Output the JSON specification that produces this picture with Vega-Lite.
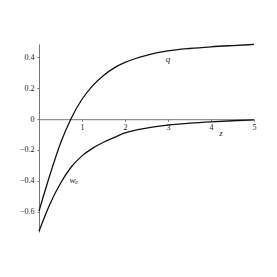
{
  "$schema": "https://vega.github.io/schema/vega-lite/v6.json",
  "width": 215,
  "height": 188,
  "autosize": {"type": "none"},
  "padding": {"left": 39, "top": 44, "right": 23, "bottom": 45},
  "background": "white",
  "config": {
    "view": {"stroke": null},
    "font": "Liberation Serif",
    "axis": {"grid": false, "title": null, "domainColor": "#777777", "tickColor": "#777777", "labelColor": "#222222", "labelFont": "Liberation Serif", "labelFontSize": 8, "labelOverlap": false}
  },
  "datasets": {
    "curves": [
      {"x": 0, "y": -0.595, "s": "q"},
      {"x": 0.25, "y": -0.365, "s": "q"},
      {"x": 0.5, "y": -0.157, "s": "q"},
      {"x": 0.75, "y": 0.005, "s": "q"},
      {"x": 1.0, "y": 0.128, "s": "q"},
      {"x": 1.25, "y": 0.216, "s": "q"},
      {"x": 1.5, "y": 0.282, "s": "q"},
      {"x": 1.75, "y": 0.331, "s": "q"},
      {"x": 2.0, "y": 0.366, "s": "q"},
      {"x": 2.5, "y": 0.412, "s": "q"},
      {"x": 3.0, "y": 0.440, "s": "q"},
      {"x": 3.5, "y": 0.456, "s": "q"},
      {"x": 4.0, "y": 0.467, "s": "q"},
      {"x": 4.5, "y": 0.475, "s": "q"},
      {"x": 5.0, "y": 0.482, "s": "q"},
      {"x": 0, "y": -0.725, "s": "w"},
      {"x": 0.25, "y": -0.552, "s": "w"},
      {"x": 0.5, "y": -0.415, "s": "w"},
      {"x": 0.75, "y": -0.310, "s": "w"},
      {"x": 1.0, "y": -0.238, "s": "w"},
      {"x": 1.25, "y": -0.188, "s": "w"},
      {"x": 1.5, "y": -0.150, "s": "w"},
      {"x": 1.75, "y": -0.119, "s": "w"},
      {"x": 2.0, "y": -0.090, "s": "w"},
      {"x": 2.5, "y": -0.058, "s": "w"},
      {"x": 3.0, "y": -0.039, "s": "w"},
      {"x": 3.5, "y": -0.027, "s": "w"},
      {"x": 4.0, "y": -0.018, "s": "w"},
      {"x": 4.5, "y": -0.011, "s": "w"},
      {"x": 5.0, "y": -0.006, "s": "w"}
    ],
    "labels": [
      {"x": 3.0, "y": 0.39, "t": "q"},
      {"x": 4.23, "y": -0.092, "t": "z"}
    ],
    "wlab": [{"x": 0.78, "y": -0.394, "t": "w"}],
    "elab": [{"x": 0.875, "y": -0.41, "t": "e"}]
  },
  "encoding": {
    "x": {"field": "x", "type": "quantitative", "scale": {"domain": [0, 5], "nice": false, "zero": false},
      "axis": {"orient": "bottom", "offset": -112.8, "values": [1, 2, 3, 4, 5], "labelOverlap": false, "tickSize": 2, "labelPadding": 2, "labelFlush": false}},
    "y": {"field": "y", "type": "quantitative", "scale": {"domain": [-0.73, 0.485], "nice": false, "zero": false},
      "axis": {"orient": "left", "tickCount": 6, "format": "~g", "labelOverlap": false, "tickSize": 2, "labelPadding": 3, "labelFlush": false}}
  },
  "layer": [
    {
      "data": {"name": "curves"},
      "mark": {"type": "line", "color": "#111111", "strokeWidth": 1.3, "interpolate": "monotone"},
      "encoding": {"detail": {"field": "s"}}
    },
    {
      "data": {"name": "labels"},
      "mark": {"type": "text", "font": "Liberation Serif", "fontStyle": "italic", "fontSize": 9, "color": "#222222", "baseline": "middle", "align": "center"},
      "encoding": {"text": {"field": "t"}}
    },
    {
      "data": {"name": "wlab"},
      "mark": {"type": "text", "font": "Liberation Serif", "fontStyle": "italic", "fontSize": 9, "color": "#222222", "baseline": "middle", "align": "center"},
      "encoding": {"text": {"field": "t"}}
    },
    {
      "data": {"name": "elab"},
      "mark": {"type": "text", "font": "Liberation Serif", "fontStyle": "italic", "fontSize": 6, "color": "#222222", "baseline": "middle", "align": "center"},
      "encoding": {"text": {"field": "t"}}
    }
  ]
}
